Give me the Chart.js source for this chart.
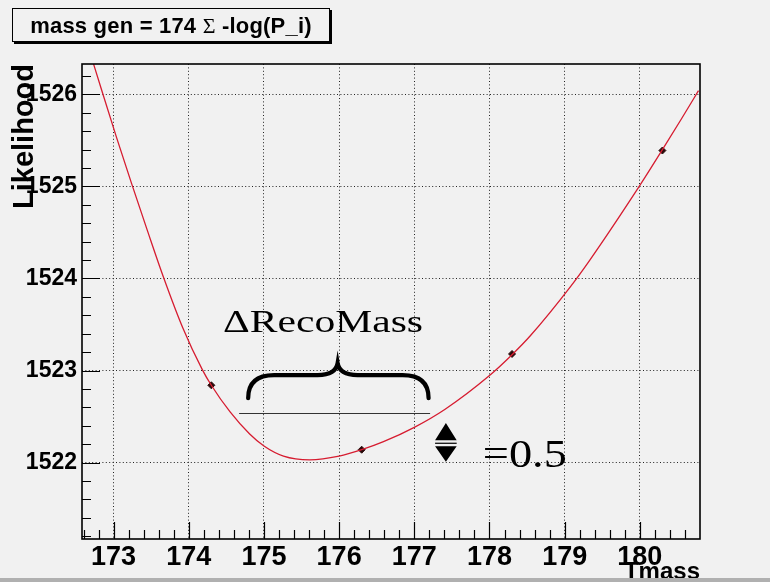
<!DOCTYPE html>
<html>
<head>
<meta charset="utf-8">
<script src="https://cdn.jsdelivr.net/npm/chart.js@4.4.1/dist/chart.umd.min.js"></script>
<style>
  html, body { margin: 0; padding: 0; background: #f1f1f1; }
  #wrap { position: relative; width: 770px; height: 582px; overflow: hidden; background: #f1f1f1; }
  #likelihood { position: absolute; left: 0; top: 0; }
  #title {
    position: absolute; left: 12px; top: 8px; width: 316px; height: 32px;
    border: 1px solid #000; box-shadow: 2px 2px 0 #000; background: #f1f1f1;
    font: bold 22px "Liberation Sans", Arial, sans-serif; letter-spacing: 0.2px;
    text-align: center; line-height: 33px; color: #000; white-space: nowrap;
  }
  #title .sym { font-family: "Liberation Serif", "DejaVu Serif", serif; font-weight: normal; }
  #band { position: absolute; left: 0; top: 578px; width: 770px; height: 4px; background: #b0b0b0; }
</style>
</head>
<body>
<div id="wrap">
  <canvas id="likelihood" width="770" height="582"></canvas>
  <div id="title">mass gen = 174 <span class="sym">&Sigma;</span> -log(P_i)</div>
  <div id="band"></div>
</div>
<script>
// fitted likelihood curve
let curve_mass = [172.70, 172.84, 173.04, 173.24, 173.45, 173.67, 173.92, 174.18, 174.3, 174.55,
                  174.81, 175.0, 175.26, 175.61, 176.0, 176.3, 176.59, 177.0, 177.41, 178.0,
                  178.31, 178.54, 179.08, 179.33, 180.0, 180.3, 180.55, 180.78];
let curve_like = [1526.42, 1526.05, 1525.53, 1525.03, 1524.52, 1524.0, 1523.465, 1523.01, 1522.84, 1522.55,
                  1522.31, 1522.18, 1522.07, 1522.03, 1522.07, 1522.14, 1522.227, 1522.383, 1522.58, 1522.946,
                  1523.18, 1523.375, 1523.915, 1524.195, 1525.012, 1525.40, 1525.73, 1526.04];

// measured points
let point_mass = [174.3, 176.3, 178.3, 180.3];
let point_like = [1522.84, 1522.14, 1523.18, 1525.39];

// axes
let mass_ticks = [173, 174, 175, 176, 177, 178, 179, 180];
let like_ticks = [1522, 1523, 1524, 1525, 1526];
let mass_range = [172.58, 180.8];
let like_range = [1521.17, 1526.33];

// hand drawn notes, anchored in axis units
let delta_note = ['\u0394RecoMass', 174.455, 1523.42];
let half_note = ['=0.5', 177.91, 1521.955];
let brace_mass = [174.79, 175.98, 177.19];   // left tip, cusp, right tip
let brace_like = [1522.70, 1522.95, 1523.08]; // tips, arms, cusp
let bar_mass = [174.67, 177.21];
let bar_like = 1522.54;
let arrow_mass = 177.42;
let arrow_like = [1522.01, 1522.21, 1522.43];

function toXY(xs, ys) {
  return xs.map(function(v, i) { return { x: v, y: ys[i] }; });
}

function stretchedText(ctx, text, px, py, font, sx) {
  ctx.save();
  ctx.translate(px, py);
  ctx.scale(sx, 1);
  ctx.font = font;
  ctx.textBaseline = 'alphabetic';
  ctx.textAlign = 'left';
  ctx.fillText(text, 0, 0);
  ctx.restore();
}

// frame, inward ticks and the notes on top of the plot
const framePlugin = {
  id: 'framePlugin',
  afterDraw(chart) {
    const ctx = chart.ctx;
    const a = chart.chartArea;
    const xs = chart.scales.x, ys = chart.scales.y;
    ctx.save();

    ctx.strokeStyle = '#000';
    ctx.lineWidth = 1.2;
    ctx.beginPath();
    for (let i = Math.ceil(like_range[0] * 5); i <= Math.floor(like_range[1] * 5); i++) {
      let py = Math.round(ys.getPixelForValue(i / 5)) + 0.5;
      let len = (i % 5 == 0) ? 18 : 9;
      ctx.moveTo(a.left, py);
      ctx.lineTo(a.left + len, py);
    }
    for (let i = Math.ceil(mass_range[0] * 5); i < Math.floor(mass_range[1] * 5); i++) {
      let px = Math.round(xs.getPixelForValue(i / 5)) + 0.5;
      let len = (i % 5 == 0) ? 17 : 9;
      ctx.moveTo(px, a.bottom);
      ctx.lineTo(px, a.bottom - len);
    }
    ctx.stroke();

    ctx.lineWidth = 1.6;
    ctx.strokeRect(a.left, a.top, a.right - a.left, a.bottom - a.top);

    // delta label and =0.5
    ctx.fillStyle = '#000';
    stretchedText(ctx, delta_note[0], xs.getPixelForValue(delta_note[1]), ys.getPixelForValue(delta_note[2]),
                  '32px "Liberation Serif", "Times New Roman", serif', 1.3);
    stretchedText(ctx, half_note[0], xs.getPixelForValue(half_note[1]), ys.getPixelForValue(half_note[2]),
                  '40px "Liberation Serif", "Times New Roman", serif', 1.16);

    // underline
    ctx.strokeStyle = '#333';
    ctx.lineWidth = 1.2;
    ctx.beginPath();
    let by = Math.round(ys.getPixelForValue(bar_like)) + 0.5;
    ctx.moveTo(xs.getPixelForValue(bar_mass[0]), by);
    ctx.lineTo(xs.getPixelForValue(bar_mass[1]), by);
    ctx.stroke();

    // curly brace
    let b0 = xs.getPixelForValue(brace_mass[0]);
    let bc = xs.getPixelForValue(brace_mass[1]);
    let b1 = xs.getPixelForValue(brace_mass[2]);
    let yt = ys.getPixelForValue(brace_like[0]);
    let ya = ys.getPixelForValue(brace_like[1]);
    let yc = ys.getPixelForValue(brace_like[2]);
    ctx.strokeStyle = '#000';
    ctx.lineWidth = 4.2;
    ctx.lineCap = 'round';
    ctx.beginPath();
    ctx.moveTo(b0, yt);
    ctx.quadraticCurveTo(b0, ya, b0 + 26, ya);
    ctx.lineTo(bc - 20, ya);
    ctx.quadraticCurveTo(bc - 2, ya, bc, yc);
    ctx.quadraticCurveTo(bc + 2, ya, bc + 20, ya);
    ctx.lineTo(b1 - 26, ya);
    ctx.quadraticCurveTo(b1, ya, b1, yt);
    ctx.stroke();

    // double arrow
    let ax = xs.getPixelForValue(arrow_mass);
    let ab = ys.getPixelForValue(arrow_like[0]);
    let am = ys.getPixelForValue(arrow_like[1]);
    let at = ys.getPixelForValue(arrow_like[2]);
    let hw = 10.8;
    ctx.fillStyle = '#000';
    ctx.beginPath();
    ctx.moveTo(ax, at); ctx.lineTo(ax + hw, am - 3); ctx.lineTo(ax - hw, am - 3); ctx.closePath();
    ctx.moveTo(ax, ab); ctx.lineTo(ax + hw, am + 3); ctx.lineTo(ax - hw, am + 3); ctx.closePath();
    ctx.fill();
    ctx.lineWidth = 1.2;
    ctx.lineCap = 'butt';
    ctx.beginPath();
    ctx.moveTo(ax - hw, am); ctx.lineTo(ax + hw, am);
    ctx.stroke();

    ctx.restore();
  }
};

const boldFont = '"Liberation Sans", Arial, sans-serif';

var ctx = document.getElementById('likelihood').getContext('2d');
var myChart = new Chart(ctx, {
  type: 'scatter',
  data: {
    datasets: [
      {
        label: 'fit',
        data: toXY(curve_mass, curve_like),
        showLine: true,
        borderColor: 'rgb(214, 28, 48)',
        borderWidth: 1.3,
        pointRadius: 0,
        cubicInterpolationMode: 'monotone'
      },
      {
        label: 'points',
        data: toXY(point_mass, point_like),
        showLine: false,
        pointStyle: 'rectRot',
        pointRadius: 3.5,
        backgroundColor: '#2a0a0a',
        borderColor: '#2a0a0a',
        borderWidth: 1
      }
    ]
  },
  options: {
    responsive: false,
    animation: false,
    events: [],
    layout: { padding: { top: 64, right: 70, left: 0, bottom: 0 } },
    plugins: {
      legend: { display: false },
      tooltip: { enabled: false }
    },
    scales: {
      x: {
        type: 'linear',
        min: mass_range[0],
        max: mass_range[1],
        afterBuildTicks: function(scale) { scale.ticks = mass_ticks.map(function(v) { return { value: v }; }); },
        afterFit: function(scale) { scale.height = 43; },
        grid: { color: '#222', lineWidth: 1, drawTicks: false },
        border: { display: false, dash: [1, 2.4] },
        ticks: {
          color: '#000', padding: 5, maxRotation: 0, autoSkip: false,
          font: { family: boldFont, size: 27, weight: 'bold', lineHeight: 1 },
          callback: function(v) { return String(v); }
        },
        title: {
          display: true, text: 'Tmass', align: 'end', color: '#000',
          font: { family: boldFont, size: 24, weight: 'bold', lineHeight: 1 },
          padding: { top: 0, bottom: -2 }
        }
      },
      y: {
        type: 'linear',
        min: like_range[0],
        max: like_range[1],
        afterBuildTicks: function(scale) { scale.ticks = like_ticks.map(function(v) { return { value: v }; }); },
        afterFit: function(scale) { scale.width = 82; },
        grid: { color: '#222', lineWidth: 1, drawTicks: false },
        border: { display: false, dash: [1, 2.4] },
        ticks: {
          color: '#000', padding: 5, autoSkip: false,
          font: { family: boldFont, size: 23, weight: 'bold', lineHeight: 1 },
          callback: function(v) { return String(v); }
        },
        title: {
          display: true, text: 'Likelihood', align: 'end', color: '#000',
          font: { family: boldFont, size: 29, weight: 'bold', lineHeight: 1 },
          padding: { top: 10, bottom: 0 }
        }
      }
    }
  },
  plugins: [framePlugin]
});
</script>
</body>
</html>
